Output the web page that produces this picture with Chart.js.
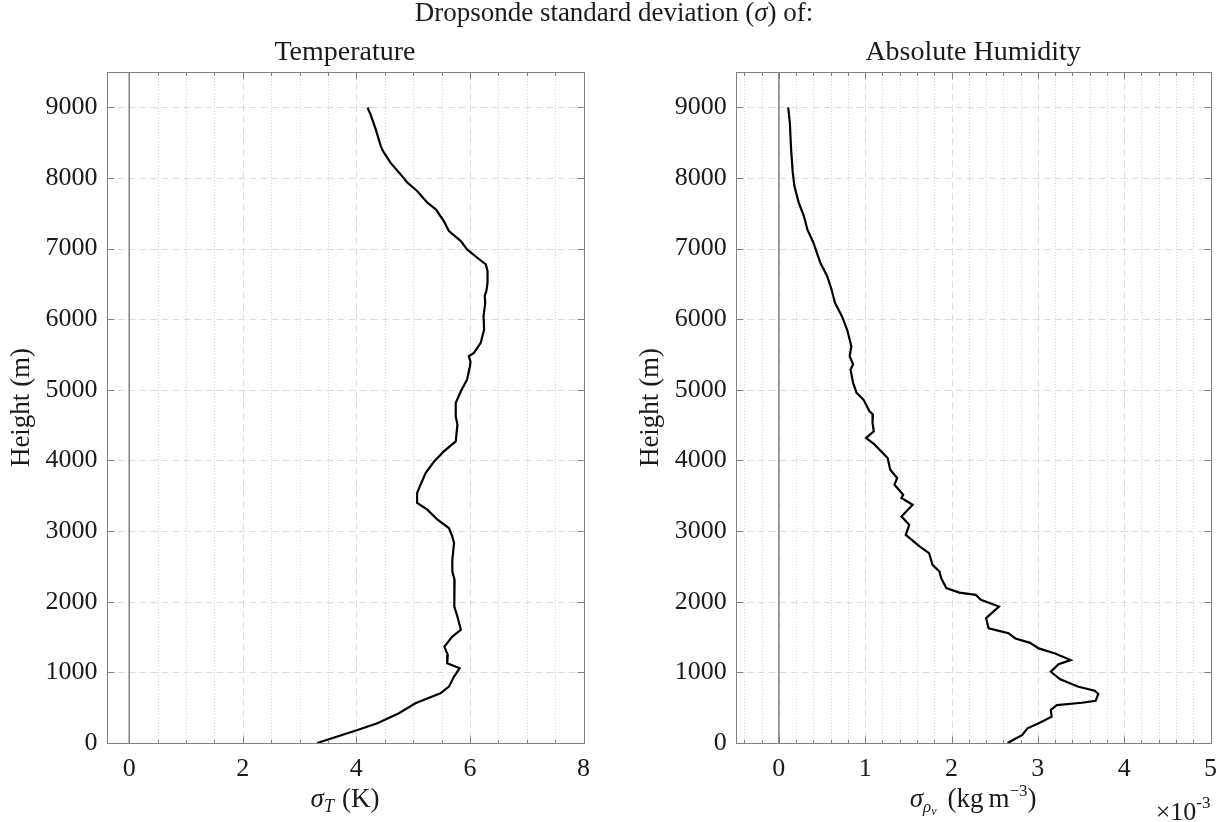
<!DOCTYPE html>
<html>
<head>
<meta charset="utf-8">
<script src="https://cdn.jsdelivr.net/npm/chart.js@4/dist/chart.umd.min.js"></script>
<style>
  html, body { margin:0; padding:0; background:#fff; }
  body { width:1228px; height:822px; position:relative; overflow:hidden; }
  canvas { position:absolute; top:0; }
</style>
</head>
<body>
<canvas id="cSup" width="1228" height="34" style="left:0"></canvas>
<canvas id="cT" width="614" height="822" style="left:0"></canvas>
<canvas id="cH" width="614" height="822" style="left:614px"></canvas>
<script>
// ---- data ----
const tempHeight = [9000, 8950, 8900, 8690, 8450, 8380, 8217, 8050, 7933, 7815, 7650, 7555, 7390, 7248, 7106, 6988, 6870, 6775, 6680, 6516, 6400, 6326, 6232, 6043, 5854, 5666, 5524, 5476, 5400, 5334, 5145, 4980, 4815, 4625, 4507, 4271, 4129, 3987, 3823, 3657, 3539, 3398, 3303, 3161, 3043, 2924, 2831, 2594, 2428, 2310, 2122, 1932, 1790, 1602, 1507, 1365, 1247, 1130, 1059, 940, 798, 704, 563, 421, 279, 184, 0];
const tempSigma  = [4.20, 4.22, 4.25, 4.34, 4.43, 4.47, 4.60, 4.78, 4.90, 5.07, 5.25, 5.40, 5.54, 5.63, 5.84, 5.95, 6.13, 6.28, 6.31, 6.31, 6.29, 6.26, 6.27, 6.24, 6.25, 6.19, 6.07, 5.98, 6.01, 6.00, 5.95, 5.84, 5.75, 5.75, 5.78, 5.75, 5.54, 5.37, 5.22, 5.13, 5.07, 5.07, 5.25, 5.43, 5.63, 5.69, 5.72, 5.69, 5.69, 5.73, 5.72, 5.73, 5.78, 5.84, 5.69, 5.55, 5.61, 5.60, 5.82, 5.72, 5.63, 5.48, 5.04, 4.75, 4.37, 4.02, 3.31];

const humHeight = [9000, 8785, 8405, 8075, 7885, 7650, 7460, 7271, 7083, 6800, 6610, 6421, 6232, 6043, 5854, 5712, 5618, 5476, 5358, 5287, 5098, 4957, 4862, 4696, 4650, 4531, 4413, 4319, 4224, 4035, 3870, 3752, 3657, 3515, 3468, 3373, 3208, 3090, 2948, 2783, 2689, 2523, 2428, 2334, 2193, 2130, 2098, 2027, 1932, 1767, 1625, 1588, 1554, 1480, 1418, 1339, 1268, 1174, 1117, 1009, 901, 797, 740, 693, 598, 570, 537, 467, 372, 279, 208, 113, 0];
const humSigma  = [0.108, 0.127, 0.142, 0.161, 0.18, 0.23, 0.29, 0.33, 0.40, 0.48, 0.56, 0.61, 0.65, 0.73, 0.79, 0.82, 0.84, 0.82, 0.86, 0.83, 0.86, 0.90, 0.98, 1.05, 1.09, 1.085, 1.10, 1.01, 1.11, 1.26, 1.29, 1.37, 1.34, 1.44, 1.42, 1.55, 1.42, 1.51, 1.47, 1.63, 1.74, 1.78, 1.86, 1.88, 1.94, 2.09, 2.28, 2.34, 2.55, 2.40, 2.43, 2.55, 2.66, 2.74, 2.91, 3.01, 3.20, 3.38, 3.24, 3.15, 3.26, 3.47, 3.66, 3.70, 3.67, 3.51, 3.22, 3.15, 3.16, 3.01, 2.88, 2.82, 2.65]; // units of 1e-3 kg m^-3

const heightTicks = [0, 1000, 2000, 3000, 4000, 5000, 6000, 7000, 8000, 9000];
const tempXTicks = [0, 2, 4, 6, 8];
const humXTicks = [0, 1, 2, 3, 4, 5];

// ---- styling ----
const FONT = '"Liberation Serif", "DejaVu Serif", serif';
const TXT = '#1a1a1a';

// super title (drawn as canvas text, spanning both panels)
(function () {
  const ctx = document.getElementById('cSup').getContext('2d');
  const parts = [
    { t: 'Dropsonde standard deviation (', f: `27px ${FONT}` },
    { t: 'σ', f: `italic 27px ${FONT}` },
    { t: ') of:', f: `27px ${FONT}` }
  ];
  let w = 0;
  parts.forEach(p => { ctx.font = p.f; w += ctx.measureText(p.t).width; });
  let x = 614 - w / 2;
  ctx.fillStyle = TXT; ctx.textBaseline = 'alphabetic';
  parts.forEach(p => { ctx.font = p.f; ctx.fillText(p.t, x, 21); x += ctx.measureText(p.t).width; });
})();

const axesPlugin = {
  id: 'matlabAxes',
  beforeDatasetsDraw(chart, args, o) {
    const {ctx, chartArea: a, scales: {x, y}} = chart;
    ctx.save();
    ctx.beginPath(); ctx.rect(a.left, a.top, a.right - a.left, a.bottom - a.top); ctx.clip();
    // minor x grid (dotted)
    ctx.strokeStyle = '#d4d4d4'; ctx.lineWidth = 1; ctx.setLineDash([1, 2]);
    const n0 = Math.ceil(x.min / o.minor - 1e-9), n1 = Math.floor(x.max / o.minor + 1e-9);
    for (let k = n0; k <= n1; k++) {
      const v = k * o.minor;
      if (o.xTicks.some(t => Math.abs(t - v) < 1e-9)) continue;
      const px = Math.round(x.getPixelForValue(v)) + 0.5;
      ctx.beginPath(); ctx.moveTo(px, a.top); ctx.lineTo(px, a.bottom); ctx.stroke();
    }
    // major grid (dashed)
    ctx.strokeStyle = '#dddddd'; ctx.setLineDash([7, 4]);
    o.xTicks.forEach(v => {
      const px = Math.round(x.getPixelForValue(v)) + 0.5;
      ctx.beginPath(); ctx.moveTo(px, a.top); ctx.lineTo(px, a.bottom); ctx.stroke();
    });
    o.yTicks.forEach(v => {
      const py = Math.round(y.getPixelForValue(v)) + 0.5;
      ctx.beginPath(); ctx.moveTo(a.left, py); ctx.lineTo(a.right, py); ctx.stroke();
    });
    // zero line
    ctx.setLineDash([]); ctx.strokeStyle = '#7a7a7a'; ctx.lineWidth = 1.4;
    const zx = x.getPixelForValue(0);
    ctx.beginPath(); ctx.moveTo(zx, a.top); ctx.lineTo(zx, a.bottom); ctx.stroke();
    ctx.restore();
  },
  afterDatasetsDraw(chart, args, o) {
    const {ctx, chartArea: a, scales: {x, y}} = chart;
    ctx.save();
    ctx.strokeStyle = '#808080'; ctx.lineWidth = 1; ctx.setLineDash([]);
    const L = Math.round(a.left) + 0.5, R = Math.round(a.right) + 0.5, T = Math.round(a.top) + 0.5, B = Math.round(a.bottom) + 0.5;
    ctx.strokeRect(L, T, R - L, B - T);
    ctx.beginPath();
    o.xTicks.forEach(v => {
      const px = Math.round(x.getPixelForValue(v)) + 0.5;
      ctx.moveTo(px, B); ctx.lineTo(px, B - 7);
      ctx.moveTo(px, T); ctx.lineTo(px, T + 7);
    });
    const n0 = Math.ceil(x.min / o.minor - 1e-9), n1 = Math.floor(x.max / o.minor + 1e-9);
    for (let k = n0; k <= n1; k++) {
      const v = k * o.minor;
      if (o.xTicks.some(t => Math.abs(t - v) < 1e-9)) continue;
      const px = Math.round(x.getPixelForValue(v)) + 0.5;
      ctx.moveTo(px, B); ctx.lineTo(px, B - 3.5);
      ctx.moveTo(px, T); ctx.lineTo(px, T + 3.5);
    }
    o.yTicks.forEach(v => {
      const py = Math.round(y.getPixelForValue(v)) + 0.5;
      ctx.moveTo(L, py); ctx.lineTo(L + 7, py);
      ctx.moveTo(R, py); ctx.lineTo(R - 7, py);
    });
    ctx.stroke();
    ctx.restore();
  },
  afterDraw(chart, args, o) {
    const {ctx, chartArea: a} = chart;
    const cx = (a.left + a.right) / 2;
    ctx.save();
    ctx.fillStyle = TXT;
    // subplot title
    ctx.font = `28px ${FONT}`; ctx.textAlign = 'center'; ctx.textBaseline = 'alphabetic';
    ctx.fillText(o.title, cx, 60);
    // y label
    ctx.save();
    ctx.font = `27px ${FONT}`;
    ctx.translate(a.left - 84.5, (a.top + a.bottom) / 2);
    ctx.rotate(-Math.PI / 2);
    ctx.textBaseline = 'middle';
    ctx.fillText('Height (m)', 0, 0);
    ctx.restore();
    // x label as runs
    const runs = o.xLabel;
    ctx.textAlign = 'left';
    let w = 0;
    runs.forEach(r => { ctx.font = r.f; w += ctx.measureText(r.t).width + (r.gap || 0); });
    let xx = cx - w / 2;
    const base = 807;
    runs.forEach(r => { ctx.font = r.f; ctx.fillText(r.t, xx, base + (r.dy || 0)); xx += ctx.measureText(r.t).width + (r.gap || 0); });
    // exponent
    if (o.exponent) {
      ctx.font = `26px ${FONT}`;
      const w1 = ctx.measureText('×10').width;
      ctx.font = `17px ${FONT}`;
      const w2 = ctx.measureText('-3').width;
      const x0 = a.right - w1 - w2;
      ctx.font = `26px ${FONT}`; ctx.fillText('×10', x0, 820);
      ctx.font = `17px ${FONT}`; ctx.fillText('-3', x0 + w1, 808);
    }
    ctx.restore();
  }
};

function makeChart(id, heights, values, xMin, xMax, xTicks, minor, yAxisWidth, padRight, title, xLabel, exponent) {
  const pts = heights.map((h, i) => ({x: values[i], y: h}));
  return new Chart(document.getElementById(id), {
    type: 'scatter',
    data: { datasets: [{ data: pts, showLine: true, borderColor: '#000', borderWidth: 2.2, pointRadius: 0, fill: false, tension: 0 }] },
    options: {
      responsive: false, animation: false, devicePixelRatio: 1,
      layout: { padding: { left: 0, right: padRight, top: 72, bottom: 0 } },
      plugins: {
        legend: { display: false }, tooltip: { enabled: false },
        matlabAxes: { xTicks, yTicks: heightTicks, minor, title, xLabel, exponent }
      },
      scales: {
        x: {
          type: 'linear', min: xMin, max: xMax,
          grid: { display: false, drawTicks: false }, border: { display: false },
          afterBuildTicks: s => { s.ticks = xTicks.map(v => ({ value: v })); },
          afterFit: s => { s.height = 79; },
          ticks: { font: { family: FONT, size: 26 }, color: TXT, padding: 11, maxRotation: 0, autoSkip: false, callback: v => String(v) }
        },
        y: {
          type: 'linear', min: 0, max: 9500,
          grid: { display: false, drawTicks: false }, border: { display: false },
          afterBuildTicks: s => { s.ticks = heightTicks.map(v => ({ value: v })); },
          afterFit: s => { s.width = yAxisWidth; },
          ticks: { font: { family: FONT, size: 26 }, color: TXT, padding: 9, autoSkip: false, callback: v => String(v) }
        }
      }
    },
    plugins: [axesPlugin]
  });
}

makeChart('cT', tempHeight, tempSigma, -0.4, 8, tempXTicks, 0.5, 106.5, 30.5, 'Temperature',
  [ { t: 'σ', f: `italic 27px ${FONT}` },
    { t: 'T', f: `italic 18px ${FONT}`, dy: 5, gap: 8 },
    { t: '(K)', f: `27px ${FONT}` } ], false);

makeChart('cH', humHeight, humSigma, -0.5, 5, humXTicks, 0.2, 121.7, 17, 'Absolute Humidity',
  [ { t: 'σ', f: `italic 27px ${FONT}` },
    { t: 'ρ', f: `italic 17px ${FONT}`, dy: 5 },
    { t: 'v', f: `italic 12px ${FONT}`, dy: 8, gap: 11 },
    { t: '(kg', f: `27px ${FONT}`, gap: 5 },
    { t: 'm', f: `27px ${FONT}` },
    { t: '−3', f: `17px ${FONT}`, dy: -11 },
    { t: ')', f: `27px ${FONT}` } ], true);
</script>
</body>
</html>
